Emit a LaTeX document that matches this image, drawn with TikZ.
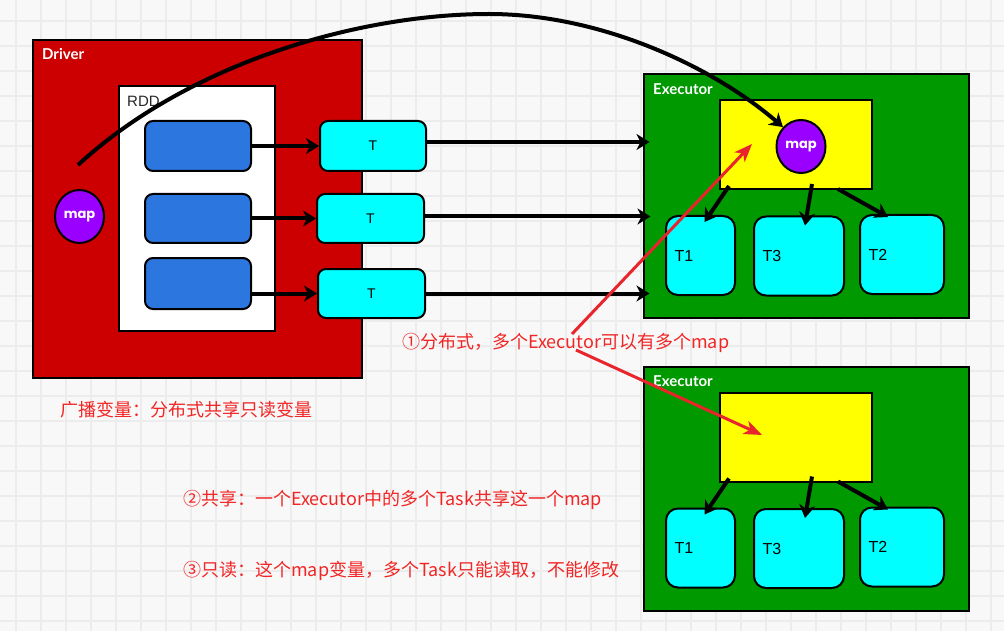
\documentclass[tikz,border=0pt]{standalone}
\usepackage{fontspec}
\setmainfont{Noto Sans CJK SC}
\newfontfamily\labfont{Lato}
\newfontfamily\mapfont{Poppins}
\newfontfamily\arialfont{Liberation Sans}
\usetikzlibrary{arrows.meta,shapes.geometric,calc}
\definecolor{bgc}{HTML}{F8F8F8}
\definecolor{gridc}{HTML}{ECECEC}
\definecolor{drvred}{HTML}{CC0000}
\definecolor{exgreen}{HTML}{009900}
\definecolor{rddblue}{HTML}{2C76E0}
\definecolor{tcyan}{HTML}{00FFFF}
\definecolor{ymap}{HTML}{FFFF00}
\definecolor{mpurple}{HTML}{9900FF}
\definecolor{notered}{HTML}{F22525}
\definecolor{arrred}{HTML}{E8242C}
\begin{document}
\begin{tikzpicture}[x=1pt,y=-1pt,
  box/.style={draw=black, line width=2pt, inner sep=0pt},
  drvbox/.style={box, fill=drvred, minimum width=329pt, minimum height=338pt},
  rddbox/.style={box, fill=white, minimum width=156pt, minimum height=245pt},
  bluebox/.style={box, rounded corners=8pt, fill=rddblue, minimum width=106pt, minimum height=50pt},
  tbox/.style={box, rounded corners=8pt, fill=tcyan, minimum width=106pt, minimum height=50pt, font=\arialfont\fontsize{14}{16}\selectfont},
  exbox/.style={box, fill=exgreen, minimum width=325pt, minimum height=244pt},
  ybox/.style={box, fill=ymap, minimum width=152pt, minimum height=89pt},
  task/.style={box, rounded corners=12pt, fill=tcyan, minimum height=79pt},
  tasklab/.style={anchor=west, xshift=6pt, font=\arialfont\fontsize{16}{18}\selectfont},
  mapc/.style={ellipse, draw=black, line width=2pt, fill=mpurple, minimum width=49pt, minimum height=53pt, inner sep=0pt, text=white, font=\mapfont\bfseries\fontsize{13}{15}\selectfont},
  wlab/.style={anchor=west, inner sep=0pt, text=white, font=\labfont\bfseries\fontsize{15}{18}\selectfont},
  dlab/.style={anchor=west, inner sep=0pt, text=black!85, font=\arialfont\fontsize{15}{18}\selectfont},
  arr/.style={draw=black, line width=4pt, -{Stealth[length=13pt,width=16pt,inset=4pt]}},
  redarr/.style={draw=arrred, line width=3pt, -{Stealth[length=18pt,width=14pt,inset=5pt]}},
  note/.style={anchor=west, inner sep=0pt, text=notered, font=\fontsize{18}{22}\selectfont}
]
\fill[bgc] (0,0) rectangle (1004,631);
\path[use as bounding box] (0,0) rectangle (1004,631);
\foreach \gx in {16,41,...,1004} \draw[gridc, line width=1.2pt] (\gx,0) -- (\gx,631);
\foreach \gy in {21,46,...,631} \draw[gridc, line width=1.2pt] (0,\gy) -- (1004,\gy);

% Driver
\node[drvbox] (driver) at (197.5,209) {};
\node[wlab] (drvlab) at (42,54) {Driver};
\node[rddbox] (rdd) at (197,208.5) {};
\node[dlab] (rddlab) at (127,101) {RDD};
\node[bluebox] (b1) at (198,146) {};
\node[bluebox, minimum height=49pt] (b2) at (198,218.5) {};
\node[bluebox, minimum height=51pt] (b3) at (198,283.5) {};
\node[mapc] (dmap) at (79.5,216.5) {map};

% Tasks
\node[tbox] (ta) at (373,146) {T};
\node[tbox, minimum width=107pt, minimum height=49pt] (tb) at (370.5,218.5) {T};
\node[tbox, minimum width=107pt, minimum height=49pt] (tc) at (371.5,293.5) {T};

% Executors
\foreach \i/\dy in {1/0,2/292.5} {
  \node[exbox] (e\i) at (806,196+\dy) {};
  \node[wlab] (elab\i) at (653,89+\dy) {Executor};
  \node[ybox] (y\i) at (796,144.5+\dy) {};
  \node[task, minimum width=69pt, label={[tasklab]west:T1}] (ta\i) at (700.5,255.5+\dy) {};
  \node[task, minimum width=90pt, label={[tasklab]west:T3}] (tb\i) at (799,256+\dy) {};
  \node[task, minimum width=84pt, label={[tasklab]west:T2}] (tc\i) at (902,254.5+\dy) {};
  \draw[arr] ($(y\i.south west)+(10,-4)$) -- ($(ta\i.north)+(4,7)$);
  \draw[arr] ($(y\i.south)+(16,-6)$) -- ($(tb\i.north)+(6,10)$);
  \draw[arr] ($(y\i.south east)+(-35,-1)$) -- ($(tc\i.north)+(-14,3)$);
}
\node[mapc] (emap) at (801,146.5) {map};

% Driver arrows
\draw[arr] (b1.east) -- (ta.west);
\draw[arr] (tb.west -| b2.east) -- (tb.west);
\draw[arr] (tc.west -| b3.east) -- (tc.west);
\draw[arr] ([yshift=4pt]ta.east) -- ([yshift=4pt,xshift=7pt]ta.east -| e1.west);
\draw[arr] ([yshift=2pt]tb.east) -- ([yshift=2pt,xshift=8pt]tb.east -| e1.west);
\draw[arr] (tc.east) -- ([xshift=7pt]tc.east -| e1.west);

% Broadcast curve
\coordinate (cs) at (78,165);
\coordinate (ctop) at (489,14);
\draw[arr] (cs) .. controls (190,62) and (360,14) .. (ctop) .. controls (600,14) and (712,66) .. (emap.north west);

% Notes
\node[note] (n0) at (60,410) {广播变量：分布式共享只读变量};
\node[note] (n1) at (402,343) {①分布式，多个Executor可以有多个map};
\node[note] (n2) at (183,500) {②共享：一个Executor中的多个Task共享这一个map};
\node[note] (n3) at (183,571) {③只读：这个map变量，多个Task只能读取，不能修改};

% Red arrows
\coordinate (rs1) at (572,334);
\coordinate (rs2) at (576,350);
\coordinate (rt1) at (752,144);
\coordinate (rt2) at (762,435);
\draw[redarr] (rs1) -- (rt1);
\draw[redarr] (rs2) -- (rt2);
\end{tikzpicture}
\end{document}
